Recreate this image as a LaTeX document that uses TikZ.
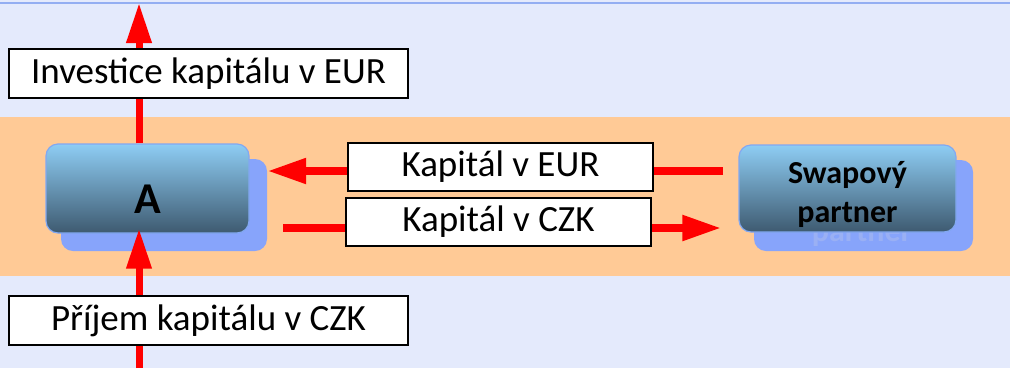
\documentclass[tikz,border=0pt]{standalone}
\usepackage{fontspec}
\setmainfont{Carlito}
\usetikzlibrary{arrows.meta}
\definecolor{bgblue}{HTML}{E4EAFC}
\definecolor{topline}{HTML}{93AEF2}
\definecolor{band}{HTML}{FFCA96}
\definecolor{shadowc}{HTML}{87A4FB}
\definecolor{ghostc}{HTML}{9AB0F4}
\definecolor{gradtop}{HTML}{8ECDF4}
\definecolor{gradbot}{HTML}{3E5A70}
\definecolor{edgec}{HTML}{82A8F2}
\tikzset{
  labelbox/.style={draw=black, line width=1.5pt, fill=white, inner sep=0pt,
    font=\fontsize{37}{40}\selectfont},
  shadowbox/.style={fill=shadowc, rounded corners=12pt, inner sep=0pt},
  mainbox/.style={top color=gradtop, bottom color=gradbot, draw=edgec, line width=1.2pt,
    rounded corners=12pt, inner sep=0pt},
  vflow/.style={draw=red, line width=7pt, -{Triangle[width=24pt,length=40pt]}},
  hflow/.style={draw=red, line width=8pt, -{Triangle[width=24pt,length=39pt]}}
}
\begin{document}
\begin{tikzpicture}[x=1pt,y=-1pt]
\useasboundingbox (0,0) rectangle (1010,368);
% backgrounds
\fill[bgblue] (0,0) rectangle (1010,368);
\fill[band] (0,117) rectangle (1010,276);
\draw[topline, line width=2pt] (0,3) -- (1010,3);
% shadows
\node[shadowbox, minimum width=206pt, minimum height=92pt] (Ash) at (164,205) {};
\node[shadowbox, minimum width=219pt, minimum height=91pt] (Ssh) at (863.5,205.5) {};
\node[text=ghostc, font=\bfseries\fontsize{32}{38}\selectfont, anchor=base] (ghost) at (862,241) {partner};
% main boxes
\node[mainbox, minimum width=203pt, minimum height=89pt] (A) at (147.5,188.5) {};
\node[font=\bfseries\fontsize{44}{48}\selectfont, anchor=base] (Alab) at (A.center |- 0,213) {A};
\node[mainbox, minimum width=217pt, minimum height=87pt] (S) at (847.5,188.5) {};
\node[font=\bfseries\fontsize{32}{38}\selectfont, anchor=base] (S1) at (S.center |- 0,183) {Swapový};
\node[font=\bfseries\fontsize{32}{38}\selectfont, anchor=base] (S2) at (S.center |- 0,222) {partner};
% free ends
\coordinate (topend) at (139,3);
\coordinate (botend) at (139,368);
% vertical arrows
\draw[vflow] (A.north -| topend) -- (topend);
\draw[vflow, shorten >=-5pt] (botend) -- (A.south -| botend);
% horizontal arrows
\coordinate (eurR) at (723,171);
\coordinate (czkL) at (283,228);
\draw[hflow] (eurR) -- (eurR -| Ash.east);
\draw[hflow, shorten >=17pt] (czkL) -- (czkL -| S.west);
% label boxes
\node[labelbox, minimum width=399pt, minimum height=49pt] (inv) at (208.5,73.5) {Investice kapitálu v EUR};
\node[labelbox, minimum width=399pt, minimum height=49pt] (pri) at (208.5,320.5) {Příjem kapitálu v CZK};
\node[labelbox, minimum width=305pt, minimum height=48pt] (eur) at (500.5,167) {Kapitál v EUR};
\node[labelbox, minimum width=305pt, minimum height=48pt] (czk) at (498.5,222) {Kapitál v CZK};
\end{tikzpicture}
\end{document}
